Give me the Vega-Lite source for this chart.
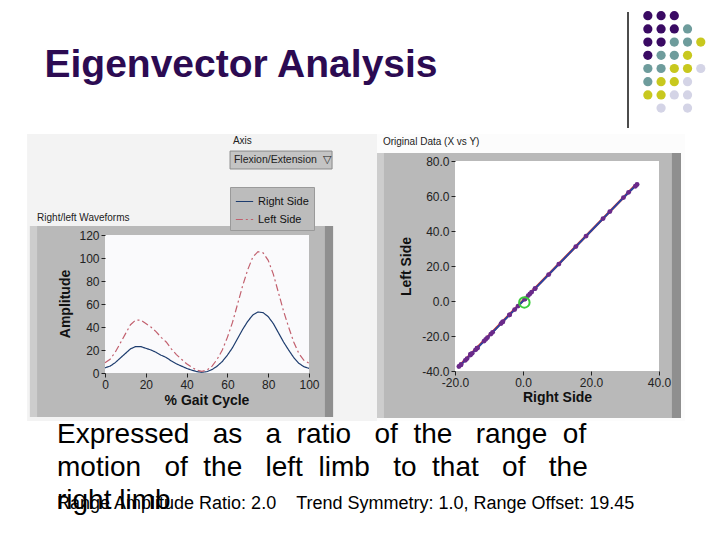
{
  "$schema": "https://vega.github.io/schema/vega-lite/v6.json",
  "background": "white",
  "padding": {"left": 27, "top": 0, "right": 0, "bottom": 0},
  "spacing": 0,
  "resolve": {"scale": {"color": "independent", "strokeDash": "independent"}, "legend": {"color": "independent", "strokeDash": "independent"}},
  "config": {
    "locale": {"number": {"decimal": ".", "thousands": ",", "grouping": [3], "currency": ["$", ""], "minus": "-"}},
    "view": {"stroke": null},
    "axis": {"grid": false, "domain": false, "labelOverlap": false, "labelFlush": false, "tickCount": 20, "labelFont": "Liberation Sans", "labelFontSize": 12, "labelColor": "#222222", "tickColor": "#222222", "tickSize": 4, "labelPadding": 2, "titleFont": "Liberation Sans", "titleFontSize": 14, "titleFontWeight": "bold", "titleColor": "#111111"}
  },
  "datasets": {
    "dots": [
      {"row": 1, "col": 1, "tone": "purple"}, {"row": 1, "col": 2, "tone": "purple"}, {"row": 1, "col": 3, "tone": "purple"},
      {"row": 2, "col": 1, "tone": "purple"}, {"row": 2, "col": 2, "tone": "purple"}, {"row": 2, "col": 3, "tone": "purple"}, {"row": 2, "col": 4, "tone": "teal"},
      {"row": 3, "col": 1, "tone": "purple"}, {"row": 3, "col": 2, "tone": "purple"}, {"row": 3, "col": 3, "tone": "teal"}, {"row": 3, "col": 4, "tone": "teal"}, {"row": 3, "col": 5, "tone": "olive"},
      {"row": 4, "col": 1, "tone": "purple"}, {"row": 4, "col": 2, "tone": "teal"}, {"row": 4, "col": 3, "tone": "teal"}, {"row": 4, "col": 4, "tone": "olive"},
      {"row": 5, "col": 1, "tone": "teal"}, {"row": 5, "col": 2, "tone": "teal"}, {"row": 5, "col": 3, "tone": "olive"}, {"row": 5, "col": 4, "tone": "olive"}, {"row": 5, "col": 5, "tone": "lavender"},
      {"row": 6, "col": 1, "tone": "teal"}, {"row": 6, "col": 2, "tone": "olive"}, {"row": 6, "col": 3, "tone": "olive"}, {"row": 6, "col": 4, "tone": "lavender"},
      {"row": 7, "col": 1, "tone": "olive"}, {"row": 7, "col": 2, "tone": "olive"}, {"row": 7, "col": 3, "tone": "lavender"}, {"row": 7, "col": 4, "tone": "lavender"},
      {"row": 8, "col": 2, "tone": "lavender"}, {"row": 8, "col": 4, "tone": "lavender"}
    ],
    "waves": [
      {"pct": 0, "side": "Right Side", "amp": 4.5}, {"pct": 2.5, "side": "Right Side", "amp": 6}, {"pct": 5, "side": "Right Side", "amp": 9}, {"pct": 7.5, "side": "Right Side", "amp": 13}, {"pct": 10, "side": "Right Side", "amp": 17}, {"pct": 12.5, "side": "Right Side", "amp": 21}, {"pct": 15, "side": "Right Side", "amp": 23}, {"pct": 17.5, "side": "Right Side", "amp": 23}, {"pct": 20, "side": "Right Side", "amp": 21.5}, {"pct": 22.5, "side": "Right Side", "amp": 20}, {"pct": 25, "side": "Right Side", "amp": 18}, {"pct": 27.5, "side": "Right Side", "amp": 15.5}, {"pct": 30, "side": "Right Side", "amp": 13.5}, {"pct": 32.5, "side": "Right Side", "amp": 10.5}, {"pct": 35, "side": "Right Side", "amp": 8}, {"pct": 37.5, "side": "Right Side", "amp": 6}, {"pct": 40, "side": "Right Side", "amp": 4}, {"pct": 42.5, "side": "Right Side", "amp": 2.5}, {"pct": 45, "side": "Right Side", "amp": 1.2}, {"pct": 47.5, "side": "Right Side", "amp": 0.6}, {"pct": 50, "side": "Right Side", "amp": 1.2}, {"pct": 52.5, "side": "Right Side", "amp": 3}, {"pct": 55, "side": "Right Side", "amp": 6}, {"pct": 57.5, "side": "Right Side", "amp": 10}, {"pct": 60, "side": "Right Side", "amp": 15.5}, {"pct": 62.5, "side": "Right Side", "amp": 22}, {"pct": 65, "side": "Right Side", "amp": 30}, {"pct": 67.5, "side": "Right Side", "amp": 38}, {"pct": 70, "side": "Right Side", "amp": 45}, {"pct": 72.5, "side": "Right Side", "amp": 50.5}, {"pct": 75, "side": "Right Side", "amp": 53}, {"pct": 77.5, "side": "Right Side", "amp": 52.5}, {"pct": 80, "side": "Right Side", "amp": 49}, {"pct": 82.5, "side": "Right Side", "amp": 43}, {"pct": 85, "side": "Right Side", "amp": 35}, {"pct": 87.5, "side": "Right Side", "amp": 27}, {"pct": 90, "side": "Right Side", "amp": 20}, {"pct": 92.5, "side": "Right Side", "amp": 13.5}, {"pct": 95, "side": "Right Side", "amp": 8.5}, {"pct": 97.5, "side": "Right Side", "amp": 5.5}, {"pct": 100, "side": "Right Side", "amp": 4},
      {"pct": 0, "side": "Left Side", "amp": 9}, {"pct": 2.5, "side": "Left Side", "amp": 12}, {"pct": 5, "side": "Left Side", "amp": 18}, {"pct": 7.5, "side": "Left Side", "amp": 26}, {"pct": 10, "side": "Left Side", "amp": 34}, {"pct": 12.5, "side": "Left Side", "amp": 42}, {"pct": 15, "side": "Left Side", "amp": 46}, {"pct": 17.5, "side": "Left Side", "amp": 46}, {"pct": 20, "side": "Left Side", "amp": 43}, {"pct": 22.5, "side": "Left Side", "amp": 40}, {"pct": 25, "side": "Left Side", "amp": 36}, {"pct": 27.5, "side": "Left Side", "amp": 31}, {"pct": 30, "side": "Left Side", "amp": 27}, {"pct": 32.5, "side": "Left Side", "amp": 21}, {"pct": 35, "side": "Left Side", "amp": 16}, {"pct": 37.5, "side": "Left Side", "amp": 12}, {"pct": 40, "side": "Left Side", "amp": 8}, {"pct": 42.5, "side": "Left Side", "amp": 5}, {"pct": 45, "side": "Left Side", "amp": 2.5}, {"pct": 47.5, "side": "Left Side", "amp": 1.5}, {"pct": 50, "side": "Left Side", "amp": 2.5}, {"pct": 52.5, "side": "Left Side", "amp": 6}, {"pct": 55, "side": "Left Side", "amp": 12}, {"pct": 57.5, "side": "Left Side", "amp": 20}, {"pct": 60, "side": "Left Side", "amp": 31}, {"pct": 62.5, "side": "Left Side", "amp": 44}, {"pct": 65, "side": "Left Side", "amp": 60}, {"pct": 67.5, "side": "Left Side", "amp": 76}, {"pct": 70, "side": "Left Side", "amp": 90}, {"pct": 72.5, "side": "Left Side", "amp": 101}, {"pct": 75, "side": "Left Side", "amp": 105.5}, {"pct": 77.5, "side": "Left Side", "amp": 104.5}, {"pct": 80, "side": "Left Side", "amp": 98}, {"pct": 82.5, "side": "Left Side", "amp": 86}, {"pct": 85, "side": "Left Side", "amp": 70}, {"pct": 87.5, "side": "Left Side", "amp": 54}, {"pct": 90, "side": "Left Side", "amp": 40}, {"pct": 92.5, "side": "Left Side", "amp": 27}, {"pct": 95, "side": "Left Side", "amp": 17}, {"pct": 97.5, "side": "Left Side", "amp": 11}, {"pct": 100, "side": "Left Side", "amp": 8.5}
    ],
    "scatter": [
      {"i": 0, "rx": -14.95, "ly": -29.9}, {"i": 1, "rx": -13.45, "ly": -26.9}, {"i": 2, "rx": -10.45, "ly": -20.9}, {"i": 3, "rx": -6.45, "ly": -12.9}, {"i": 4, "rx": -2.45, "ly": -4.9}, {"i": 5, "rx": 1.55, "ly": 3.1}, {"i": 6, "rx": 3.55, "ly": 7.1}, {"i": 7, "rx": 3.55, "ly": 7.1}, {"i": 8, "rx": 2.05, "ly": 4.1}, {"i": 9, "rx": 0.55, "ly": 1.1}, {"i": 10, "rx": -1.45, "ly": -2.9}, {"i": 11, "rx": -3.95, "ly": -7.9}, {"i": 12, "rx": -5.95, "ly": -11.9}, {"i": 13, "rx": -8.95, "ly": -17.9}, {"i": 14, "rx": -11.45, "ly": -22.9}, {"i": 15, "rx": -13.45, "ly": -26.9}, {"i": 16, "rx": -15.45, "ly": -30.9}, {"i": 17, "rx": -16.95, "ly": -33.9}, {"i": 18, "rx": -18.25, "ly": -36.4}, {"i": 19, "rx": -18.85, "ly": -37.4}, {"i": 20, "rx": -18.25, "ly": -36.4}, {"i": 21, "rx": -16.45, "ly": -32.9}, {"i": 22, "rx": -13.45, "ly": -26.9}, {"i": 23, "rx": -9.45, "ly": -18.9}, {"i": 24, "rx": -3.95, "ly": -7.9}, {"i": 25, "rx": 2.55, "ly": 5.1}, {"i": 26, "rx": 10.55, "ly": 21.1}, {"i": 27, "rx": 18.55, "ly": 37.1}, {"i": 28, "rx": 25.55, "ly": 51.1}, {"i": 29, "rx": 31.05, "ly": 62.1}, {"i": 30, "rx": 33.55, "ly": 66.6}, {"i": 31, "rx": 33.05, "ly": 65.6}, {"i": 32, "rx": 29.55, "ly": 59.1}, {"i": 33, "rx": 23.55, "ly": 47.1}, {"i": 34, "rx": 15.55, "ly": 31.1}, {"i": 35, "rx": 7.55, "ly": 15.1}, {"i": 36, "rx": 0.55, "ly": 1.1}, {"i": 37, "rx": -5.95, "ly": -11.9}, {"i": 38, "rx": -10.95, "ly": -21.9}, {"i": 39, "rx": -13.95, "ly": -27.9}, {"i": 40, "rx": -15.45, "ly": -30.4}
    ],
    "trend": [{"rx": -19.0, "ly": -37.7}, {"rx": 33.6, "ly": 67.2}],
    "center": [{"rx": 0.4, "ly": -0.8}],
    "para": [
      {"line": 1, "text": "Expressed\u00a0\u00a0\u00a0as\u00a0\u00a0\u00a0a\u00a0\u00a0ratio\u00a0\u00a0\u00a0of\u00a0\u00a0the\u00a0\u00a0\u00a0range\u00a0\u00a0of"},
      {"line": 2, "text": "motion\u00a0\u00a0\u00a0of\u00a0\u00a0the\u00a0\u00a0\u00a0left\u00a0\u00a0limb\u00a0\u00a0\u00a0to\u00a0\u00a0that\u00a0\u00a0\u00a0of\u00a0\u00a0\u00a0the"},
      {"line": 3, "text": "right limb"}
    ],
    "stats": [
      {"line": 3, "text": "Range Amplitude Ratio: 2.0\u00a0\u00a0\u00a0\u00a0Trend Symmetry: 1.0, Range Offset: 19.45"}
    ]
  },
  "vconcat": [
    {
      "spacing": 172,
      "resolve": {"scale": {"color": "independent"}, "legend": {"color": "independent"}},
      "hconcat": [
        {
          "width": 428, "height": 130,
          "data": {"values": [{"label": "Eigenvector Analysis"}]},
          "mark": {"type": "text", "font": "Liberation Sans", "fontSize": 39, "fontWeight": "bold", "fill": "#2c0b52", "baseline": "middle", "align": "center"},
          "encoding": {"text": {"field": "label"}}
        },
        {
          "width": 86, "height": 133,
          "layer": [
            {
              "data": {"values": [{}]},
              "mark": {"type": "rule", "color": "#111111", "strokeWidth": 1.5},
              "encoding": {
                "x": {"datum": -0.5, "type": "quantitative", "scale": {"domain": [-0.5, 6], "nice": false, "zero": false}, "axis": null},
                "y": {"datum": 0.72, "type": "quantitative", "scale": {"domain": [-0.19, 9.886], "nice": false, "zero": false, "reverse": true}, "axis": null},
                "y2": {"datum": 9.5}
              }
            },
            {
              "data": {"name": "dots"},
              "mark": {"type": "circle", "size": 85, "opacity": 1},
              "encoding": {
                "x": {"field": "col", "type": "quantitative", "scale": {"domain": [-0.5, 6], "nice": false, "zero": false}, "axis": null},
                "y": {"field": "row", "type": "quantitative", "scale": {"domain": [-0.19, 9.886], "nice": false, "zero": false, "reverse": true}, "axis": null},
                "color": {"field": "tone", "type": "nominal", "scale": {"domain": ["purple", "teal", "olive", "lavender"], "range": ["#3a0a63", "#6e9c9c", "#c8c81e", "#d4d4e6"]}, "legend": null}
              }
            }
          ]
        }
      ]
    },
    {
      "spacing": 0,
      "resolve": {"scale": {"color": "independent", "strokeDash": "independent"}, "legend": {"color": "independent", "strokeDash": "independent"}},
      "hconcat": [
        {
          "width": 282, "height": 212,
          "layer": [
            {
              "data": {"values": [{}]},
              "mark": {"type": "rect", "fill": "#f3f3f3"},
              "encoding": {
                "x": {"datum": -38.2, "type": "quantitative", "scale": {"domain": [-38.24, 100], "nice": false, "zero": false}},
                "x2": {"datum": 133.3},
                "y": {"datum": 207.8, "type": "quantitative", "scale": {"domain": [0, 184.35], "nice": false, "zero": false}},
                "y2": {"datum": -41.7}
              }
            },
            {
              "data": {"values": [{}]},
              "mark": {"type": "rect", "fill": "#b9b9b9"},
              "encoding": {
                "x": {"datum": -36.8, "type": "quantitative", "scale": {"domain": [-38.24, 100], "nice": false, "zero": false}},
                "x2": {"datum": 111.8},
                "y": {"datum": 127.8, "type": "quantitative", "scale": {"domain": [0, 184.35], "nice": false, "zero": false}},
                "y2": {"datum": -38.3}
              }
            },
            {
              "data": {"values": [{}]},
              "mark": {"type": "rect", "fill": "#cdcdcd"},
              "encoding": {
                "x": {"datum": -36.8, "type": "quantitative", "scale": {"domain": [-38.24, 100], "nice": false, "zero": false}},
                "x2": {"datum": -33.3},
                "y": {"datum": 127.8, "type": "quantitative", "scale": {"domain": [0, 184.35], "nice": false, "zero": false}},
                "y2": {"datum": -38.3}
              }
            },
            {
              "data": {"values": [{}]},
              "mark": {"type": "rect", "fill": "#8f8f8f"},
              "encoding": {
                "x": {"datum": 107.8, "type": "quantitative", "scale": {"domain": [-38.24, 100], "nice": false, "zero": false}},
                "x2": {"datum": 111.8},
                "y": {"datum": 127.8, "type": "quantitative", "scale": {"domain": [0, 184.35], "nice": false, "zero": false}},
                "y2": {"datum": -38.3}
              }
            },
            {
              "data": {"values": [{}]},
              "mark": {"type": "rect", "fill": "#fafafc"},
              "encoding": {
                "x": {"datum": 0, "type": "quantitative", "scale": {"domain": [-38.24, 100], "nice": false, "zero": false}},
                "x2": {"datum": 100},
                "y": {"datum": 0, "type": "quantitative", "scale": {"domain": [0, 184.35], "nice": false, "zero": false}},
                "y2": {"datum": 120}
              }
            },
            {
              "data": {"values": [{}]},
              "mark": {"type": "rect", "fill": "#c4c4c4", "stroke": "#8a8a8a", "strokeWidth": 1},
              "encoding": {
                "x": {"datum": 61.3, "type": "quantitative", "scale": {"domain": [-38.24, 100], "nice": false, "zero": false}},
                "x2": {"datum": 111.3},
                "y": {"datum": 193, "type": "quantitative", "scale": {"domain": [0, 184.35], "nice": false, "zero": false}},
                "y2": {"datum": 177.4}
              }
            },
            {
              "data": {"values": [{}]},
              "mark": {"type": "text", "text": "Axis", "align": "left", "baseline": "middle", "font": "Liberation Sans", "fontSize": 10, "fill": "#222222"},
              "encoding": {
                "x": {"datum": 62.7, "type": "quantitative", "scale": {"domain": [-38.24, 100], "nice": false, "zero": false}},
                "y": {"datum": 201.7, "type": "quantitative", "scale": {"domain": [0, 184.35], "nice": false, "zero": false}}
              }
            },
            {
              "data": {"values": [{}]},
              "mark": {"type": "text", "text": "Flexion/Extension\u00a0\u00a0\u25bd", "align": "left", "baseline": "middle", "font": "Liberation Sans", "fontSize": 10.5, "fill": "#222222"},
              "encoding": {
                "x": {"datum": 63.2, "type": "quantitative", "scale": {"domain": [-38.24, 100], "nice": false, "zero": false}},
                "y": {"datum": 185.2, "type": "quantitative", "scale": {"domain": [0, 184.35], "nice": false, "zero": false}}
              }
            },
            {
              "data": {"values": [{}]},
              "mark": {"type": "text", "text": "Right/left Waveforms", "align": "left", "baseline": "middle", "font": "Liberation Sans", "fontSize": 10, "fill": "#222222"},
              "encoding": {
                "x": {"datum": -33.3, "type": "quantitative", "scale": {"domain": [-38.24, 100], "nice": false, "zero": false}},
                "y": {"datum": 134.8, "type": "quantitative", "scale": {"domain": [0, 184.35], "nice": false, "zero": false}}
              }
            },
            {
              "data": {"values": [{}]},
              "mark": {"type": "text", "text": "Amplitude", "angle": 270, "align": "center", "baseline": "middle", "font": "Liberation Sans", "fontSize": 14, "fontWeight": "bold", "fill": "#111111"},
              "encoding": {
                "x": {"datum": -19.1, "type": "quantitative", "scale": {"domain": [-38.24, 100], "nice": false, "zero": false}},
                "y": {"datum": 60, "type": "quantitative", "scale": {"domain": [0, 184.35], "nice": false, "zero": false}}
              }
            },
            {
              "data": {"values": [{}]},
              "mark": {"type": "text", "text": "% Gait Cycle", "align": "center", "baseline": "middle", "font": "Liberation Sans", "fontSize": 14, "fontWeight": "bold", "fill": "#111111"},
              "encoding": {
                "x": {"datum": 50, "type": "quantitative", "scale": {"domain": [-38.24, 100], "nice": false, "zero": false}},
                "y": {"datum": -24.3, "type": "quantitative", "scale": {"domain": [0, 184.35], "nice": false, "zero": false}}
              }
            },
            {
              "data": {"name": "waves"},
              "mark": {"type": "line", "strokeWidth": 1.2},
              "encoding": {
                "x": {"field": "pct", "type": "quantitative", "scale": {"domain": [-38.24, 100], "nice": false, "zero": false}, "axis": {"zindex": 1, "tickCount": 20, "values": [0, 20, 40, 60, 80, 100], "title": null}},
                "y": {"field": "amp", "type": "quantitative", "scale": {"domain": [0, 184.35], "nice": false, "zero": false}, "axis": {"zindex": 1, "tickCount": 20, "offset": -78, "values": [0, 20, 40, 60, 80, 100, 120], "title": null}},
                "color": {"field": "side", "type": "nominal", "scale": {"domain": ["Right Side", "Left Side"], "range": ["#1d3c6e", "#c2606e"]}, "legend": {"title": null, "orient": "none", "legendX": 203, "legendY": 26, "fillColor": "#bcbcbc", "strokeColor": "#9a9a9a", "padding": 5, "labelFont": "Liberation Sans", "labelFontSize": 11, "labelColor": "#111111", "symbolSize": 300, "symbolStrokeWidth": 1.2, "rowPadding": 3, "zindex": 1}},
                "strokeDash": {"field": "side", "type": "nominal", "scale": {"domain": ["Right Side", "Left Side"], "range": [[1, 0], [7, 3, 2, 3]]}, "legend": {"title": null, "orient": "none", "legendX": 203, "legendY": 26, "fillColor": "#bcbcbc", "strokeColor": "#9a9a9a", "padding": 5, "labelFont": "Liberation Sans", "labelFontSize": 11, "labelColor": "#111111", "symbolSize": 300, "symbolStrokeWidth": 1.2, "rowPadding": 3, "zindex": 1}}
              }
            }
          ]
        },
        {
          "width": 204, "height": 210,
          "layer": [
            {
              "data": {"values": [{}]},
              "mark": {"type": "rect", "fill": "#fcfcfc"},
              "encoding": {
                "x": {"datum": -42.94, "type": "quantitative", "scale": {"domain": [-20, 40], "nice": false, "zero": false}},
                "x2": {"datum": 47.65},
                "y": {"datum": 95.43, "type": "quantitative", "scale": {"domain": [-40, 80], "nice": false, "zero": false}},
                "y2": {"datum": -68.57}
              }
            },
            {
              "data": {"values": [{}]},
              "mark": {"type": "rect", "fill": "#b9b9b9"},
              "encoding": {
                "x": {"datum": -42.94, "type": "quantitative", "scale": {"domain": [-20, 40], "nice": false, "zero": false}},
                "x2": {"datum": 46.47},
                "y": {"datum": 84.57, "type": "quantitative", "scale": {"domain": [-40, 80], "nice": false, "zero": false}},
                "y2": {"datum": -66.86}
              }
            },
            {
              "data": {"values": [{}]},
              "mark": {"type": "rect", "fill": "#cdcdcd"},
              "encoding": {
                "x": {"datum": -42.94, "type": "quantitative", "scale": {"domain": [-20, 40], "nice": false, "zero": false}},
                "x2": {"datum": -40.9},
                "y": {"datum": 84.57, "type": "quantitative", "scale": {"domain": [-40, 80], "nice": false, "zero": false}},
                "y2": {"datum": -66.86}
              }
            },
            {
              "data": {"values": [{}]},
              "mark": {"type": "rect", "fill": "#8f8f8f"},
              "encoding": {
                "x": {"datum": 43.8, "type": "quantitative", "scale": {"domain": [-20, 40], "nice": false, "zero": false}},
                "x2": {"datum": 46.47},
                "y": {"datum": 84.57, "type": "quantitative", "scale": {"domain": [-40, 80], "nice": false, "zero": false}},
                "y2": {"datum": -66.86}
              }
            },
            {
              "data": {"values": [{}]},
              "mark": {"type": "rect", "fill": "#ffffff"},
              "encoding": {
                "x": {"datum": -20, "type": "quantitative", "scale": {"domain": [-20, 40], "nice": false, "zero": false}},
                "x2": {"datum": 40},
                "y": {"datum": -40, "type": "quantitative", "scale": {"domain": [-40, 80], "nice": false, "zero": false}},
                "y2": {"datum": 80}
              }
            },
            {
              "data": {"values": [{}]},
              "mark": {"type": "text", "text": "Original Data (X vs Y)", "align": "left", "baseline": "middle", "font": "Liberation Sans", "fontSize": 10, "fill": "#222222"},
              "encoding": {
                "x": {"datum": -41.2, "type": "quantitative", "scale": {"domain": [-20, 40], "nice": false, "zero": false}},
                "y": {"datum": 90.9, "type": "quantitative", "scale": {"domain": [-40, 80], "nice": false, "zero": false}}
              }
            },
            {
              "data": {"name": "trend"},
              "mark": {"type": "line", "color": "#cc2a2a", "strokeWidth": 2.5},
              "encoding": {
                "x": {"field": "rx", "type": "quantitative", "scale": {"domain": [-20, 40], "nice": false, "zero": false}},
                "y": {"field": "ly", "type": "quantitative", "scale": {"domain": [-40, 80], "nice": false, "zero": false}}
              }
            },
            {
              "data": {"name": "scatter"},
              "mark": {"type": "line", "color": "#2148a8", "strokeWidth": 1.8},
              "encoding": {
                "x": {"field": "rx", "type": "quantitative", "scale": {"domain": [-20, 40], "nice": false, "zero": false}, "axis": {"zindex": 1, "tickCount": 20, "values": [-20, 0, 20, 40], "format": ".1f", "title": "Right Side", "titlePadding": 2}},
                "y": {"field": "ly", "type": "quantitative", "scale": {"domain": [-40, 80], "nice": false, "zero": false}, "axis": {"zindex": 1, "tickCount": 20, "values": [-40, -20, 0, 20, 40, 60, 80], "format": ".1f", "title": "Left Side", "titlePadding": 8}},
                "order": {"field": "i", "type": "quantitative"}
              }
            },
            {
              "data": {"name": "scatter"},
              "mark": {"type": "circle", "size": 24, "color": "#6a2a8a", "opacity": 1},
              "encoding": {
                "x": {"field": "rx", "type": "quantitative", "scale": {"domain": [-20, 40], "nice": false, "zero": false}},
                "y": {"field": "ly", "type": "quantitative", "scale": {"domain": [-40, 80], "nice": false, "zero": false}}
              }
            },
            {
              "data": {"name": "center"},
              "mark": {"type": "point", "shape": "circle", "filled": false, "color": "#3ccc3c", "strokeWidth": 2, "size": 110, "opacity": 1},
              "encoding": {
                "x": {"field": "rx", "type": "quantitative", "scale": {"domain": [-20, 40], "nice": false, "zero": false}},
                "y": {"field": "ly", "type": "quantitative", "scale": {"domain": [-40, 80], "nice": false, "zero": false}}
              }
            }
          ]
        }
      ]
    },
    {
      "width": 60, "height": 66,
      "layer": [
        {
          "data": {"name": "para"},
          "mark": {"type": "text", "align": "left", "baseline": "alphabetic", "font": "Liberation Sans", "fontSize": 28, "fill": "#000000"},
          "encoding": {
            "y": {"field": "line", "type": "ordinal", "scale": {"type": "point", "padding": 0}, "axis": null},
            "text": {"field": "text"}
          }
        },
        {
          "data": {"name": "stats"},
          "mark": {"type": "text", "align": "left", "baseline": "alphabetic", "font": "Liberation Sans", "fontSize": 18, "fill": "#000000"},
          "encoding": {
            "y": {"field": "line", "type": "ordinal", "scale": {"type": "point", "padding": 0}, "axis": null},
            "text": {"field": "text"}
          }
        }
      ]
    }
  ]
}
